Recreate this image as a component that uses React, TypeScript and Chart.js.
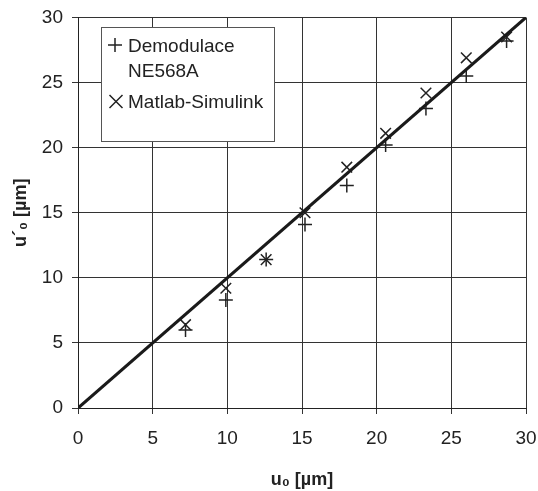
import React, { useEffect, useRef } from "react";
import { Chart, registerables } from "chart.js";

Chart.register(...registerables);

const xValues = [7.2, 9.9, 12.6, 15.2, 18.0, 20.6, 23.3, 26.0, 28.7];
const demodulace = [6.0, 8.3, 11.4, 14.1, 17.1, 20.2, 23.0, 25.5, 28.2];
const simulink = [6.4, 9.2, 11.4, 15.0, 18.5, 21.1, 24.2, 26.9, 28.5];
const idealX = [0, 30];
const idealY = [0, 30];
const axisMin = 0;
const axisMax = 30;
const tickStep = 5;
const legendLabels = [["Demodulace", "NE568A"], ["Matlab-Simulink"]];
const xTitle = "u\u2080 [\u00b5m]";
const yTitle = "u\u00b4\u2080 [\u00b5m]";

const FONT = "'Liberation Sans', Arial, sans-serif";
const TEXT = "#222";

const legendPlugin = {
  id: "boxLegend",
  afterDatasetsDraw(chart: any) {
    const ctx = chart.ctx;
    const x0 = 101.5, y0 = 27.5, w = 173, h = 114;
    ctx.save();
    ctx.fillStyle = "#fff";
    ctx.fillRect(x0, y0, w, h);
    ctx.strokeStyle = "#555";
    ctx.lineWidth = 1;
    ctx.strokeRect(x0, y0, w, h);
    ctx.font = `19px ${FONT}`;
    ctx.fillStyle = TEXT;
    ctx.textBaseline = "alphabetic";
    ctx.strokeStyle = "#222";
    ctx.lineWidth = 1.5;
    const r = 7;
    let cx = 115, cy = 45;
    ctx.beginPath();
    ctx.moveTo(cx - r, cy); ctx.lineTo(cx + r, cy);
    ctx.moveTo(cx, cy - r); ctx.lineTo(cx, cy + r);
    ctx.stroke();
    ctx.fillText(legendLabels[0][0], 128, 52);
    ctx.fillText(legendLabels[0][1], 128, 77);
    cx = 116; cy = 101.5;
    const d = 6.5;
    ctx.beginPath();
    ctx.moveTo(cx - d, cy - d); ctx.lineTo(cx + d, cy + d);
    ctx.moveTo(cx - d, cy + d); ctx.lineTo(cx + d, cy - d);
    ctx.stroke();
    ctx.fillText(legendLabels[1][0], 128, 108);
    ctx.restore();
  },
};

export default function App() {
  const ref = useRef<HTMLCanvasElement | null>(null);
  useEffect(() => {
    if (!ref.current) return;
    const chart = new Chart(ref.current, {
      type: "scatter",
      data: {
        datasets: [
          {
            type: "line",
            label: "ideal",
            data: idealX.map((x, i) => ({ x, y: idealY[i] })),
            borderColor: "#1a1a1a",
            borderWidth: 3.2,
            pointRadius: 0,
            showLine: true,
            fill: false,
          } as any,
          {
            label: "Demodulace NE568A",
            data: xValues.map((x, i) => ({ x, y: demodulace[i] })),
            pointStyle: "cross",
            pointRadius: 7,
            borderColor: "#222",
            backgroundColor: "#222",
            borderWidth: 1.5,
          },
          {
            label: "Matlab-Simulink",
            data: xValues.map((x, i) => ({ x, y: simulink[i] })),
            pointStyle: "crossRot",
            pointRadius: 7.5,
            borderColor: "#222",
            backgroundColor: "#222",
            borderWidth: 1.5,
          },
        ],
      },
      options: {
        animation: false,
        responsive: false,
        layout: { padding: { top: 17.5, right: 12, left: 0, bottom: 0 } },
        plugins: { legend: { display: false }, tooltip: { enabled: false } },
        scales: {
          x: {
            type: "linear",
            min: axisMin,
            max: axisMax,
            afterFit(scale: any) {
              scale.height = 83;
              scale.paddingLeft = 0;
              scale.paddingRight = 0;
            },
            ticks: {
              stepSize: tickStep,
              color: TEXT,
              font: { family: FONT, size: 19 },
              padding: 13,
              maxRotation: 0,
            },
            grid: { color: "#333", lineWidth: 1, tickLength: 6 },
            border: { color: "#222", width: 1 },
            title: {
              display: true,
              text: xTitle,
              color: TEXT,
              font: { family: FONT, size: 18, weight: "bold" },
              padding: { top: 0, bottom: 0 },
            },
          },
          y: {
            type: "linear",
            min: axisMin,
            max: axisMax,
            afterFit(scale: any) {
              scale.width = 78;
              scale.paddingTop = 0;
              scale.paddingBottom = 0;
            },
            ticks: {
              stepSize: tickStep,
              color: TEXT,
              font: { family: FONT, size: 19 },
              padding: 9,
            },
            grid: { color: "#333", lineWidth: 1, tickLength: 6 },
            border: { color: "#222", width: 1 },
            title: {
              display: true,
              text: yTitle,
              color: TEXT,
              font: { family: FONT, size: 18, weight: "bold" },
              padding: { top: 10, bottom: 0 },
            },
          },
        },
      },
      plugins: [legendPlugin],
    });
    return () => chart.destroy();
  }, []);
  return (
    <div style={{ position: "absolute", left: 0, top: 0, width: 538, height: 491, background: "#fff" }}>
      <canvas ref={ref} width={538} height={491} style={{ display: "block" }} />
    </div>
  );
}
